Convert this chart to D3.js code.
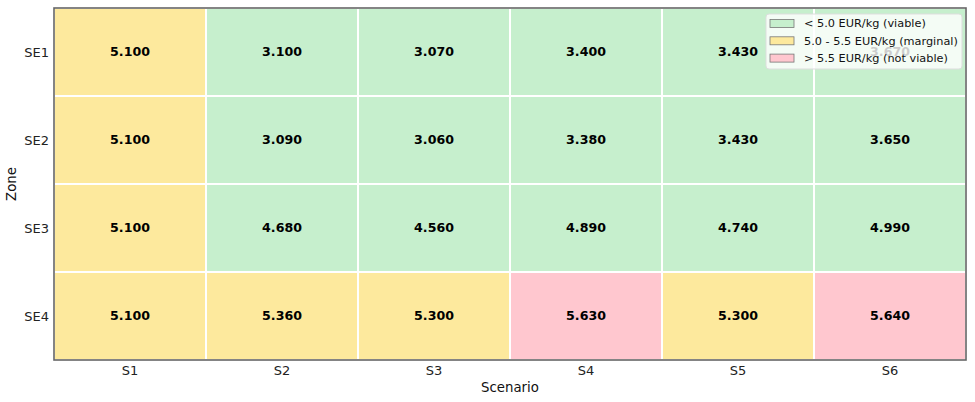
<!DOCTYPE html>
<html lang="en">
<head>
<meta charset="UTF-8">
<title>Cost heatmap</title>
<script src="https://d3js.org/d3.v7.min.js"></script>
<style>
  body { margin: 0; background: #fff; font-family: "DejaVu Sans", sans-serif; }
  .tick-label { font-size: 13px; fill: #222; }
  .axis-label { font-size: 13.3px; fill: #111; }
  .cell-label { font-size: 12.6px; font-weight: bold; fill: #000; }
  .legend text { font-size: 11.3px; fill: #111; }
</style>
</head>
<body>
<svg width="975" height="402"></svg>
<script>
const scenarios = ["S1", "S2", "S3", "S4", "S5", "S6"];
const zones = ["SE1", "SE2", "SE3", "SE4"];
const costs = [
  [5.10, 3.10, 3.07, 3.40, 3.43, 3.67],
  [5.10, 3.09, 3.06, 3.38, 3.43, 3.65],
  [5.10, 4.68, 4.56, 4.89, 4.74, 4.99],
  [5.10, 5.36, 5.30, 5.63, 5.30, 5.64]
];
const bands = ["< 5.0 EUR/kg (viable)", "5.0 - 5.5 EUR/kg (marginal)", "> 5.5 EUR/kg (not viable)"];
const bandColors = ["#c6efcd", "#fde99d", "#ffc7cf"];

const svg = d3.select("svg"),
      margin = { top: 8, right: 9, bottom: 42, left: 54 },
      width = +svg.attr("width") - margin.left - margin.right,
      height = +svg.attr("height") - margin.top - margin.bottom,
      g = svg.append("g").attr("transform", `translate(${margin.left},${margin.top})`);

const x = d3.scaleBand().domain(scenarios).range([0, width]);
const y = d3.scaleBand().domain(zones).range([0, height]);
const color = d3.scaleThreshold().domain([5.0, 5.5]).range(bandColors);

const cells = [];
zones.forEach((z, i) => scenarios.forEach((s, j) => cells.push({ zone: z, scenario: s, value: costs[i][j] })));

g.selectAll(".cell")
  .data(cells)
  .enter().append("rect")
  .attr("class", "cell")
  .attr("x", d => x(d.scenario))
  .attr("y", d => y(d.zone))
  .attr("width", x.bandwidth())
  .attr("height", y.bandwidth())
  .attr("fill", d => color(d.value))
  .attr("stroke", "#fff")
  .attr("stroke-width", 2);

g.selectAll(".cell-label")
  .data(cells)
  .enter().append("text")
  .attr("class", "cell-label")
  .attr("x", d => x(d.scenario) + x.bandwidth() / 2)
  .attr("y", d => y(d.zone) + y.bandwidth() / 2)
  .attr("text-anchor", "middle")
  .attr("dy", "0.35em")
  .text(d => d.value.toFixed(3));

// frame
g.append("rect")
  .attr("width", width)
  .attr("height", height)
  .attr("fill", "none")
  .attr("stroke", "#666")
  .attr("stroke-width", 1.6);

// tick labels
g.selectAll(".xtick")
  .data(scenarios)
  .enter().append("text")
  .attr("class", "tick-label")
  .attr("x", d => x(d) + x.bandwidth() / 2)
  .attr("y", height + 15)
  .attr("text-anchor", "middle")
  .text(d => d);

g.selectAll(".ytick")
  .data(zones)
  .enter().append("text")
  .attr("class", "tick-label")
  .attr("x", -5)
  .attr("y", d => y(d) + y.bandwidth() / 2)
  .attr("dy", "0.35em")
  .attr("text-anchor", "end")
  .text(d => d);

g.append("text")
  .attr("class", "axis-label")
  .attr("x", width / 2)
  .attr("y", height + 32)
  .attr("text-anchor", "middle")
  .text("Scenario");

g.append("text")
  .attr("class", "axis-label")
  .attr("transform", "rotate(-90)")
  .attr("x", -height / 2)
  .attr("y", -38)
  .attr("text-anchor", "middle")
  .text("Zone");

// legend (sits over the SE1/S6 cell, as in the source chart)
const lg = g.append("g")
  .attr("class", "legend")
  .attr("transform", `translate(${width - 200},6)`);

lg.append("rect")
  .attr("width", 196)
  .attr("height", 55)
  .attr("rx", 3)
  .attr("fill", "#fff")
  .attr("fill-opacity", 0.8)
  .attr("stroke", "#ddd");

const items = lg.selectAll(".item")
  .data(bands)
  .enter().append("g")
  .attr("class", "item")
  .attr("transform", (d, i) => `translate(4,${5.5 + i * 17.3})`);

items.append("rect")
  .attr("width", 24)
  .attr("height", 8)
  .attr("fill", (d, i) => bandColors[i])
  .attr("stroke", "#777")
  .attr("stroke-width", 0.8);

items.append("text")
  .attr("x", 34)
  .attr("y", 4)
  .attr("dy", "0.35em")
  .text(d => d);
</script>
</body>
</html>
